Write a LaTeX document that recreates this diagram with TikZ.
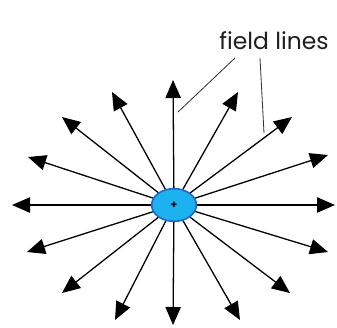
\documentclass[tikz,border=0pt]{standalone}
\usepackage{fontspec}
\setmainfont{Poppins}
\usepackage{xcolor}
\usepackage{tikz}
\usetikzlibrary{arrows.meta,shapes.geometric}

\definecolor{azulcarga}{RGB}{28,178,240}
\definecolor{bordecarga}{RGB}{30,105,205}

\tikzset{
  campo/.style={line width=1.1pt, -{Triangle[length=0.54cm, width=0.46cm]}},
  carga/.style={ellipse, draw=bordecarga, fill=azulcarga, line width=1.4pt,
    minimum width=1.34cm, minimum height=0.98cm, inner sep=0pt},
  guia/.style={line width=0.7pt, black!80}
}

\begin{document}
\begin{tikzpicture}[x=0.03cm, y=-0.03cm]
\useasboundingbox (0,0) rectangle (337,327);

% Lineas de campo
\coordinate (c) at (174,205);
\foreach \px/\py [count=\i] in {335/205, 328/155, 292/117, 238/92, 173/80,
  112/92, 62/117, 28/157, 12/205, 27/252, 62/293, 115/320, 173/325,
  240/320, 290/293, 328/252}
{
  \coordinate (p\i) at (\px,\py);
  \draw[campo] (c) -- (p\i);
}

% Carga
\node[carga] (carga) at (c) {\fontsize{9}{9}\selectfont\textbf{+}};

% Etiqueta
\node[text=black!88, font=\fontsize{20}{21}\selectfont] (etiqueta) at (274,41) {field lines};

\coordinate (a1) at (235,58);
\coordinate (a2) at (178,112);
\coordinate (b1) at (260,58);
\coordinate (b2) at (264,133);
\draw[guia] (a1) -- (a2);
\draw[guia] (b1) -- (b2);

\end{tikzpicture}
\end{document}
